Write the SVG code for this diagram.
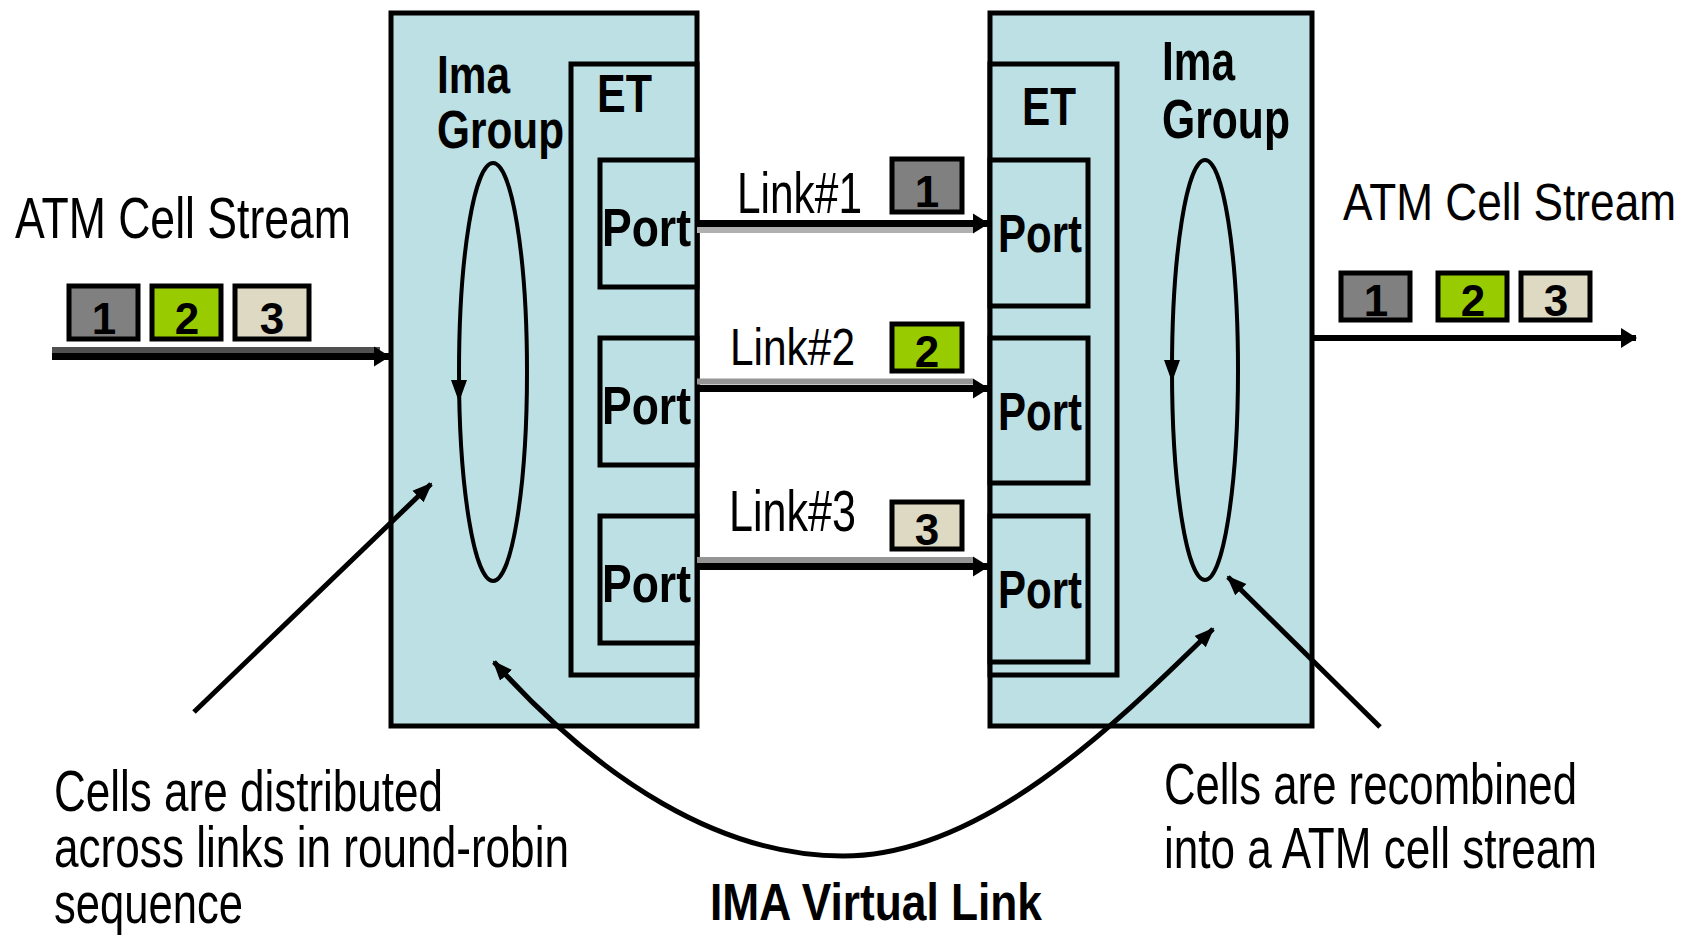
<svg xmlns="http://www.w3.org/2000/svg" width="1693" height="936" viewBox="0 0 1693 936">
<style>
.box{fill:#bde0e4;stroke:#000;stroke-width:5}
.port{fill:#bde0e4;stroke:#000;stroke-width:5}
.t{font-family:"Liberation Sans",Arial,sans-serif;fill:#000}
.b{font-weight:bold}
.blk{stroke:#000;fill:none}
.ell{fill:none;stroke:#000;stroke-width:4}
.cell{stroke:#000;stroke-width:5}
.g1{fill:#808080}.g2{fill:#99cc00}.g3{fill:#ddd9c3}
.num{font-family:"Liberation Sans",Arial,sans-serif;font-weight:bold;font-size:44px;text-anchor:middle;fill:#000}
</style>
<defs>
<marker id="ah" markerUnits="userSpaceOnUse" markerWidth="16" markerHeight="22" refX="15" refY="11" orient="auto">
<path d="M0,1 L16,11 L0,21 z" fill="#000"/>
</marker>
<marker id="ap" markerUnits="userSpaceOnUse" markerWidth="20" markerHeight="20" refX="18" refY="10" orient="auto">
<path d="M0,2 L20,10 L0,18 z" fill="#000"/>
</marker>
</defs>

<g id="ima-left">
<rect class="box" x="391" y="13" width="306" height="713"/>
<text class="t b" x="437" y="93" font-size="53" textLength="73" lengthAdjust="spacingAndGlyphs">Ima</text>
<text class="t b" x="437" y="148" font-size="53" textLength="127" lengthAdjust="spacingAndGlyphs">Group</text>
<ellipse class="ell" cx="493" cy="372" rx="34" ry="209"/>
<path d="M451,380 L467,380 L459,402 z" fill="#000"/>
</g>
<g id="et-left">
<rect class="box" x="571" y="64" width="126" height="611"/>
<text class="t b" x="597" y="112" font-size="53" textLength="55" lengthAdjust="spacingAndGlyphs">ET</text>
</g>
<g id="port-l1">
<rect class="port" x="600" y="160" width="97" height="127"/>
<text class="t b" x="602" y="246" font-size="54" textLength="89" lengthAdjust="spacingAndGlyphs">Port</text>
</g>
<g id="port-l2">
<rect class="port" x="600" y="338" width="97" height="127"/>
<text class="t b" x="602" y="424" font-size="54" textLength="89" lengthAdjust="spacingAndGlyphs">Port</text>
</g>
<g id="port-l3">
<rect class="port" x="600" y="516" width="97" height="127"/>
<text class="t b" x="602" y="602" font-size="54" textLength="89" lengthAdjust="spacingAndGlyphs">Port</text>
</g>

<g id="ima-right">
<rect class="box" x="990" y="13" width="322" height="713"/>
<text class="t b" x="1162" y="80" font-size="55" textLength="73" lengthAdjust="spacingAndGlyphs">Ima</text>
<text class="t b" x="1162" y="138" font-size="55" textLength="128" lengthAdjust="spacingAndGlyphs">Group</text>
<ellipse class="ell" cx="1205" cy="370" rx="33" ry="210"/>
<path d="M1164,360 L1180,360 L1172,382 z" fill="#000"/>
</g>
<g id="et-right">
<rect class="box" x="990" y="64" width="127" height="611"/>
<text class="t b" x="1022" y="125" font-size="53" textLength="54" lengthAdjust="spacingAndGlyphs">ET</text>
</g>
<g id="port-r1">
<rect class="port" x="990" y="160" width="98" height="146"/>
<text class="t b" x="998" y="252" font-size="54" textLength="84" lengthAdjust="spacingAndGlyphs">Port</text>
</g>
<g id="port-r2">
<rect class="port" x="990" y="338" width="98" height="145"/>
<text class="t b" x="998" y="430" font-size="54" textLength="84" lengthAdjust="spacingAndGlyphs">Port</text>
</g>
<g id="port-r3">
<rect class="port" x="990" y="516" width="98" height="146"/>
<text class="t b" x="998" y="608" font-size="54" textLength="84" lengthAdjust="spacingAndGlyphs">Port</text>
</g>

<g id="connectors">
<line x1="52" y1="350" x2="380" y2="350" stroke="#505050" stroke-width="6"/>
<line x1="52" y1="356.5" x2="389" y2="356.5" class="blk" stroke-width="7" marker-end="url(#ah)"/>
<line x1="697" y1="223.5" x2="988" y2="223.5" class="blk" stroke-width="7" marker-end="url(#ah)"/>
<line x1="697" y1="230" x2="973" y2="230" stroke="#b0b0b0" stroke-width="6"/>
<line x1="697" y1="381.5" x2="973" y2="381.5" stroke="#959595" stroke-width="6"/>
<line x1="697" y1="388.5" x2="988" y2="388.5" class="blk" stroke-width="7" marker-end="url(#ah)"/>
<line x1="697" y1="560" x2="973" y2="560" stroke="#959595" stroke-width="6"/>
<line x1="697" y1="566.5" x2="988" y2="566.5" class="blk" stroke-width="7" marker-end="url(#ah)"/>
<line x1="1312" y1="338" x2="1636" y2="338" class="blk" stroke-width="6" marker-end="url(#ah)"/>
<line x1="194" y1="712" x2="431" y2="484" class="blk" stroke-width="5" marker-end="url(#ap)"/>
<line x1="1380" y1="727" x2="1228" y2="577" class="blk" stroke-width="5" marker-end="url(#ap)"/>
<path d="M843,856 C720,856 600,780 494,662" class="blk" stroke-width="5" marker-end="url(#ap)"/>
<path d="M843,856 C980,856 1110,730 1213,629" class="blk" stroke-width="5" marker-end="url(#ap)"/>
</g>

<g id="cells-in">
<rect class="cell g1" x="69" y="286" width="69" height="53"/>
<text class="num" x="104" y="334">1</text>
<rect class="cell g2" x="152" y="286" width="69" height="53"/>
<text class="num" x="187" y="334">2</text>
<rect class="cell g3" x="235" y="286" width="74" height="53"/>
<text class="num" x="272" y="334">3</text>
</g>
<g id="cells-links">
<rect class="cell g1" x="892" y="159" width="70" height="53"/>
<text class="num" x="927" y="207">1</text>
<rect class="cell g2" x="892" y="324" width="70" height="47"/>
<text class="num" x="927" y="367">2</text>
<rect class="cell g3" x="892" y="502" width="70" height="47"/>
<text class="num" x="927" y="545">3</text>
</g>
<g id="cells-out">
<rect class="cell g1" x="1341" y="273" width="69" height="47"/>
<text class="num" x="1376" y="316">1</text>
<rect class="cell g2" x="1438" y="273" width="69" height="47"/>
<text class="num" x="1473" y="316">2</text>
<rect class="cell g3" x="1521" y="273" width="69" height="47"/>
<text class="num" x="1556" y="316">3</text>
</g>

<g id="labels">
<text class="t" x="15" y="238" font-size="57" textLength="336" lengthAdjust="spacingAndGlyphs">ATM Cell Stream</text>
<text class="t" transform="translate(1343,220) scale(1,1.15)" font-size="45" textLength="333" lengthAdjust="spacingAndGlyphs">ATM Cell Stream</text>
<text class="t" x="737" y="213" font-size="57" textLength="125" lengthAdjust="spacingAndGlyphs">Link#1</text>
<text class="t" x="730" y="365" font-size="52" textLength="125" lengthAdjust="spacingAndGlyphs">Link#2</text>
<text class="t" x="729" y="531" font-size="57" textLength="127" lengthAdjust="spacingAndGlyphs">Link#3</text>
<text class="t" transform="translate(54,811) scale(1,1.15)" font-size="50" textLength="389" lengthAdjust="spacingAndGlyphs">Cells are distributed</text>
<text class="t" transform="translate(54,867) scale(1,1.15)" font-size="50" textLength="515" lengthAdjust="spacingAndGlyphs">across links in round-robin</text>
<text class="t" transform="translate(54,923) scale(1,1.15)" font-size="50" textLength="189" lengthAdjust="spacingAndGlyphs">sequence</text>
<text class="t b" x="710" y="920" font-size="52" textLength="332" lengthAdjust="spacingAndGlyphs">IMA Virtual Link</text>
<text class="t" transform="translate(1164,804) scale(1,1.15)" font-size="50" textLength="413" lengthAdjust="spacingAndGlyphs">Cells are recombined</text>
<text class="t" transform="translate(1164,868) scale(1,1.15)" font-size="50" textLength="433" lengthAdjust="spacingAndGlyphs">into a ATM cell stream</text>
</g>
</svg>
